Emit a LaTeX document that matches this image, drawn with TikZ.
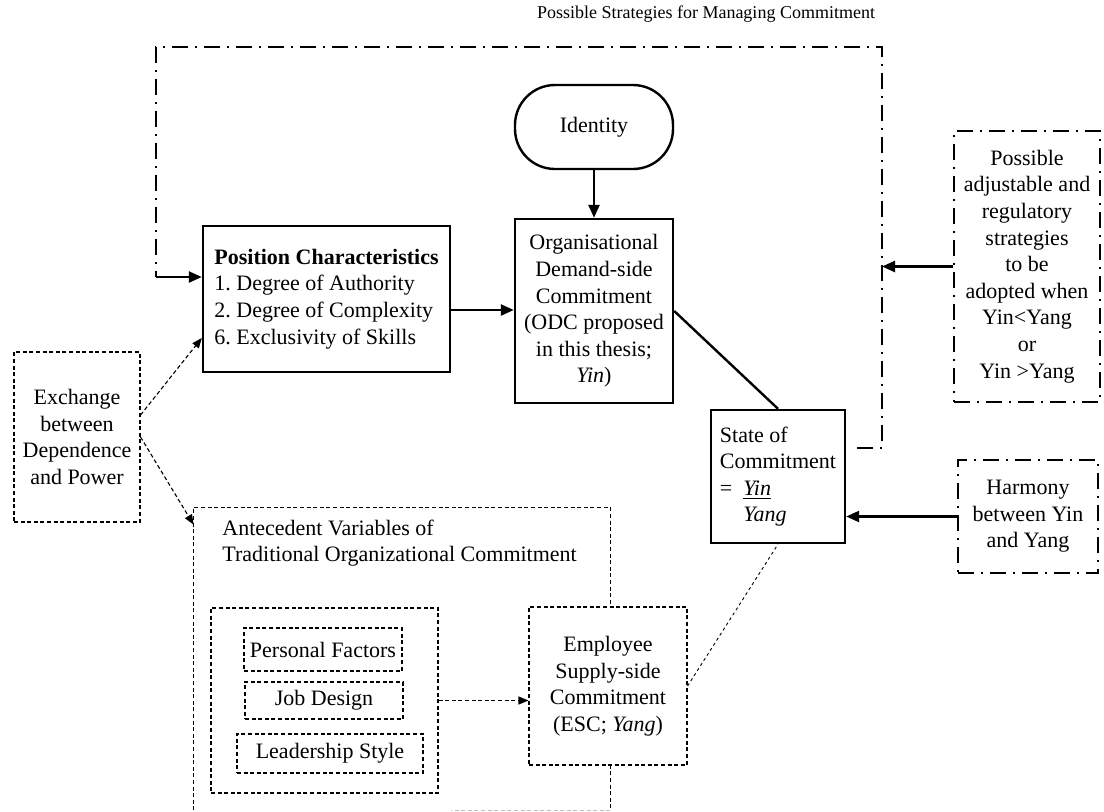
\documentclass[tikz,border=0pt]{standalone}
\usepackage{fontspec}
\setmainfont{Liberation Serif}
\usetikzlibrary{arrows.meta,fit}
\begin{document}
\frenchspacing
\begin{tikzpicture}[x=0.5pt,y=-0.5pt,
  every node/.style={font=\fontsize{11}{13.3}\selectfont, inner sep=0pt},
  sz/.style 2 args={minimum width=#1, minimum height=#2},
  solidbox/.style={draw, line width=1.2pt, fill=white},
  dashbox/.style={draw, line width=0.55pt, dash pattern=on 2pt off 1.3pt, fill=white},
  ddbox/.style={draw, line width=1.3pt, dash pattern=on 8pt off 3.5pt on 1pt off 3.5pt, fill=white},
  ddline/.style={line width=1.3pt, dash pattern=on 8pt off 3.5pt on 1pt off 3.5pt},
  harrow/.style={-{Triangle[length=6.5pt,width=5.5pt]}, line width=1.2pt},
  darrow/.style={-{Triangle[length=5pt,width=4pt]}, line width=0.55pt, dash pattern=on 2pt off 1.3pt},
  fineline/.style={line width=0.45pt, dash pattern=on 1.5pt off 1.5pt},
]
\path[fill=white] (0,0) rectangle (1104,811);
\useasboundingbox (0,0) rectangle (1104,811);

% heading of the strategy loop
\node (title) at (706,14) {\fontsize{9}{10}\selectfont Possible Strategies for Managing Commitment};

% antecedent frame (cut off at the bottom of the page)
\node[fit={(194,508)(610,810)}] (Ante) {};
\draw[dashbox, fill=none] (Ante.south west) -- (Ante.north west) -- (Ante.north east) -- (Ante.south east);
\draw[dashbox, fill=none, black!25] (Ante.south east) -- ++(-79.5pt,0);
\node[anchor=west, align=left] (AnteLabel) at (222,543) {Antecedent Variables of\\Traditional Organizational Commitment};

% inner antecedent group
\node[dashbox, sz={113.5pt}{92.5pt}] (Inner) at (324.5,700.5) {};
\node[dashbox, sz={79pt}{21.5pt}] (Pers) at (323,649.5) {Personal Factors};
\node[dashbox, sz={79pt}{18.5pt}] (Job) at (324,700.5) {Job Design};
\node[dashbox, sz={93pt}{19.5pt}] (Lead) at (330,753.5) {Leadership Style};

% main boxes
\node[solidbox, rounded corners=20pt, sz={79pt}{42pt}] (Id) at (594,127) {Identity};
\node[solidbox, sz={79pt}{92pt}, align=center] (ODC) at (594,311) {Organisational\\Demand-side\\Commitment\\(ODC proposed\\in this thesis;\\\textit{Yin})};
\node[solidbox, sz={123.5pt}{73pt}, align=left] (Pos) at (326.5,299) {\textbf{Position Characteristics}\\1. Degree of Authority\\2. Degree of Complexity\\6. Exclusivity of Skills};
\node[solidbox, sz={67pt}{66.5pt}, align=left] (State) at (778,476.5) {State of\\Commitment\\=\ \ \underline{\textit{Yin}}\\\hphantom{=\ \ }\textit{Yang}};
\node[dashbox, sz={63pt}{85pt}, align=center] (Exch) at (77,437) {Exchange\\between\\Dependence\\and Power};
\node[dashbox, sz={79pt}{79pt}, align=center] (ESC) at (608,686) {Employee\\Supply-side\\Commitment\\(ESC; \textit{Yang})};

% dash-dot boxes on the right
\node[ddbox, sz={73pt}{135.5pt}, align=center] (Strat) at (1027,266.5) {Possible\\adjustable and\\regulatory\\strategies\\to be\\adopted when\\Yin<Yang\\or\\Yin >Yang};
\node[ddbox, sz={70pt}{56.5pt}, align=center] (Harm) at (1028,516.5) {Harmony\\between Yin\\and Yang};

% strategy loop
\coordinate (loopEnd) at (857,448);
\coordinate (loopTR) at (882,47);
\coordinate (loopTL) at (156,47);
\coordinate (loopIn) at (156,277);
\draw[ddline] (loopEnd) -- (loopEnd -| loopTR) -- (loopTR) -- (loopTL) -- (loopIn);
\draw[harrow] (loopIn) -- (loopIn -| Pos.west);

% connectors
\draw[harrow] (Id.south) -- (ODC.north);
\draw[harrow] ([yshift=-5.5pt]Pos.east) -- ([yshift=-5.5pt]Pos.east -| ODC.west);
\draw[line width=1.2pt] (ODC.east) -- (State.north);
\draw[harrow] (Harm.west) -- (Harm.west -| State.east);
\draw[harrow] (Strat.west) -- (Strat.west -| loopTR);
\draw[darrow] ([yshift=11pt]Exch.east) -- ([yshift=-19.5pt]Pos.west);
\draw[darrow] (Exch.east) -- ([yshift=-8.5pt]Ante.north west);
\draw[darrow] (Inner.east) -- (Inner.east -| ESC.west);
\draw[fineline] (ESC.east) -- (State.south);
\end{tikzpicture}
\end{document}
